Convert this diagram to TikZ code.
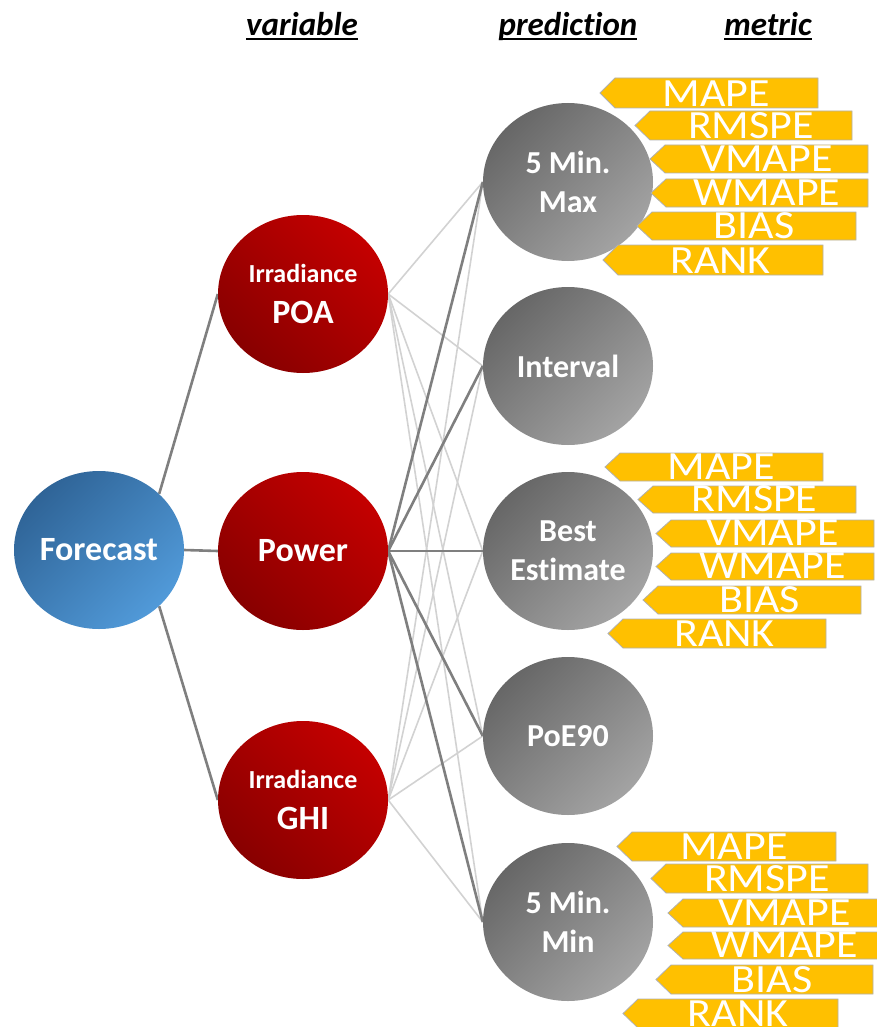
\documentclass[tikz,border=0pt]{standalone}
\usepackage{fontspec}
\setmainfont{Carlito}[Ligatures=NoCommon]
\newfontfamily\tagfont[FakeStretch=1.1]{Carlito}
\usetikzlibrary{shapes.geometric,backgrounds}
\definecolor{tagyellow}{HTML}{FFC000}
\definecolor{tagedge}{HTML}{B0B0B0}
\definecolor{bluedark}{HTML}{2F6497}
\definecolor{bluelight}{HTML}{519AD9}
\definecolor{redbright}{HTML}{C40000}
\definecolor{reddark}{HTML}{880000}
\definecolor{graydark}{HTML}{676767}
\definecolor{graylight}{HTML}{A3A3A3}
\definecolor{linedark}{HTML}{7F7F7F}
\definecolor{linelight}{HTML}{D2D2D2}
\newsavebox\hdbox
\newcommand\hdul[1]{\sbox\hdbox{#1}\rlap{\usebox\hdbox}\rule[-4.5pt]{\wd\hdbox}{2pt}}
\tikzset{
  bubble/.style={ellipse, minimum width=170pt, minimum height=158pt, inner sep=0pt,
     text=white, align=center, font=\bfseries},
  bluebub/.style={bubble, top color=bluedark, bottom color=bluelight, shading angle=45},
  redbub/.style={bubble, top color=redbright, bottom color=reddark, shading angle=-45},
  graybub/.style={bubble, top color=graydark, bottom color=graylight, shading angle=45},
  tagbox/.style={fill=tagyellow, draw=tagedge, line width=0.8pt},
  tagtext/.style={text=white, font=\tagfont\fontsize{40}{40}\selectfont, inner sep=0pt},
  header/.style={font=\bfseries\itshape\fontsize{33}{33}\selectfont, inner sep=0pt},
  darkline/.style={draw=linedark, line width=2.6pt},
  lightline/.style={draw=linelight, line width=1.6pt},
  rootline/.style={draw=linedark, line width=2.6pt},
  bigtxt/.style={font=\bfseries\fontsize{34}{41}\selectfont},
  predtxt/.style={font=\bfseries\fontsize{32}{39}\selectfont}
}
% name, tip x, right x, top y, bottom y, text
\newcommand\mtag[6]{%
  \draw[tagbox] (#2,{(#4+#5)/2}) -- ({#2+15},#4) -- (#3,#4) -- (#3,#5) -- ({#2+15},#5) -- cycle;
  \node[tagtext, anchor=base] (#1) at ({(#2+15+#3)/2},{#5-1.5}) {#6};
}
\begin{document}
\begin{tikzpicture}[x=1pt,y=-1pt]
\useasboundingbox (0,0) rectangle (876,1027);

% headers
\node[header, anchor=base] (hvar) at (302,36) {\hdul{variable}};
\node[header, anchor=base] (hpred) at (568,36) {\hdul{prediction}};
\node[header, anchor=base] (hmet) at (768,36) {\hdul{metric}};

% root
\node[bluebub, bigtxt] (fc) at (99,550) {Forecast};

% variables
\node[redbub, bigtxt] (poa) at (303,294) {{\fontsize{26}{41}\selectfont Irradiance}\\POA};
\node[redbub, bigtxt] (pow) at (303,551) {Power};
\node[redbub, bigtxt] (ghi) at (303,800) {{\fontsize{26}{41}\selectfont Irradiance}\\GHI};

% predictions
\node[graybub, predtxt] (max) at (568,182) {5 Min.\\Max};
\node[graybub, predtxt] (int) at (568,366) {Interval};
\node[graybub, predtxt] (best) at (568,551) {Best\\Estimate};
\node[graybub, predtxt] (poe) at (568,736) {PoE90};
\node[graybub, predtxt] (min) at (568,922) {5 Min.\\Min};

\begin{pgfonlayer}{background}
  \draw[rootline] (fc.43) -- (poa.west);
  \draw[rootline] (fc.east) -- (pow.west);
  \draw[rootline] (fc.-43) -- (ghi.west);
  \foreach \v in {poa,ghi}
    \foreach \p in {max,int,best,poe,min}
      \draw[lightline] (\v.east) -- (\p.west);
  \foreach \p in {max,int,best,poe,min}
    \draw[darkline] (pow.east) -- (\p.west);
\end{pgfonlayer}

% metrics: top group
\mtag{ta}{600}{818}{78}{108}{MAPE}
\mtag{tb}{635}{852}{111}{140}{RMSPE}
\mtag{tc}{650}{868}{145}{173}{VMAPE}
\mtag{td}{651}{868}{179}{207}{WMAPE}
\mtag{te}{637}{856}{212}{240}{BIAS}
\mtag{tf}{603}{823}{245}{275}{RANK}
% middle group
\mtag{ma}{605}{823}{453}{481}{MAPE}
\mtag{mb}{638}{856}{486}{513}{RMSPE}
\mtag{mc}{656}{874}{520}{547}{VMAPE}
\mtag{md}{656}{874}{553}{580}{WMAPE}
\mtag{me}{643}{861}{586}{614}{BIAS}
\mtag{mf}{608}{826}{619}{648}{RANK}
% bottom group
\mtag{ba}{617}{836}{832}{861}{MAPE}
\mtag{bb}{651}{868}{864}{893}{RMSPE}
\mtag{bc}{668}{886}{899}{927}{VMAPE}
\mtag{bd}{668}{886}{932}{959}{WMAPE}
\mtag{be}{656}{873}{965}{994}{BIAS}
\mtag{bf}{623}{838}{999}{1028}{RANK}
\end{tikzpicture}
\end{document}
